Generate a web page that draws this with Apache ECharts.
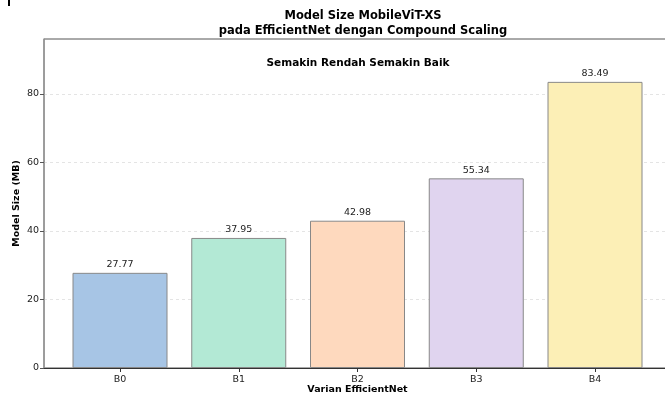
<!DOCTYPE html>
<html><head><meta charset="utf-8">
<script src="https://cdn.jsdelivr.net/npm/echarts@6/dist/echarts.min.js"></script>
<style>html,body{margin:0;padding:0;background:#fff}#c{width:665px;height:397px}</style>
</head><body><div id="c"></div>
<script>
const categories = ['B0','B1','B2','B3','B4'];
const modelSize = [27.77, 37.95, 42.98, 55.34, 83.49];
const barColors = ['#a7c5e5','#b3e9d5','#fed9be','#e0d4ef','#fcefb6'];
const yTicks = [0,20,40,60,80];
const titleText = 'Model Size MobileViT-XS\npada EfficientNet dengan Compound Scaling';
const noteText = 'Semakin Rendah Semakin Baik';

const F = 'DejaVu Sans';
const chart = echarts.init(document.getElementById('c'), null, {renderer:'canvas'});
chart.setOption({
  animation:false,
  backgroundColor:'#fff',
  title:{text:titleText,left:358,top:4,textAlign:'center',
    textStyle:{fontFamily:F,fontWeight:'bold',fontSize:11.5,color:'#000',lineHeight:15}},
  graphic:[
    {type:'rect',shape:{x:8,y:0,width:2,height:6},style:{fill:'#000'}},
    {type:'text',style:{text:noteText,x:358,y:58,textAlign:'center',fontFamily:F,fontWeight:'bold',fontSize:10.5,fill:'#000'}}
  ],
  grid:{left:44,width:627,top:39,height:329,outerBoundsMode:'none',containLabel:false,show:true,borderColor:'#555',borderWidth:1,backgroundColor:'#fff'},
  xAxis:{type:'value',min:-0.64,max:4.64,
    name:'Varian EfficientNet',nameLocation:'middle',nameGap:17,nameMoveOverlap:false,
    nameTextStyle:{fontFamily:F,fontWeight:'bold',fontSize:9.5,color:'#000'},
    axisLine:{show:true,onZero:false,lineStyle:{color:'#333',width:1.2}},
    axisTick:{show:true,customValues:[0,1,2,3,4],length:4,lineStyle:{color:'#333'}},
    axisLabel:{customValues:[0,1,2,3,4],formatter:v=>categories[Math.round(v)],fontFamily:F,fontSize:9.5,color:'#222',margin:7},
    splitLine:{show:false}},
  yAxis:{type:'value',min:0,max:96,
    name:'Model Size (MB)',nameLocation:'middle',nameGap:22,nameMoveOverlap:false,
    nameTextStyle:{fontFamily:F,fontWeight:'bold',fontSize:9.5,color:'#000'},
    axisLine:{show:true,onZero:false,lineStyle:{color:'#999',width:1.5}},
    axisTick:{show:true,customValues:yTicks,length:4,lineStyle:{color:'#555'}},
    axisLabel:{customValues:yTicks,fontFamily:F,fontSize:9.5,color:'#222',margin:5},
    splitLine:{show:true,lineStyle:{color:'#ddd',type:[3,3],width:0.8}}},
  series:[{type:'bar',barWidth:95,
    data:modelSize.map((v,i)=>({value:[i,v],itemStyle:{color:barColors[i]}})),
    itemStyle:{borderColor:'#888',borderWidth:1},
    label:{show:true,position:'top',distance:3,formatter:p=>p.value[1].toFixed(2),fontFamily:F,fontSize:9.5,color:'#222'}
  }]
});
</script></body></html>
